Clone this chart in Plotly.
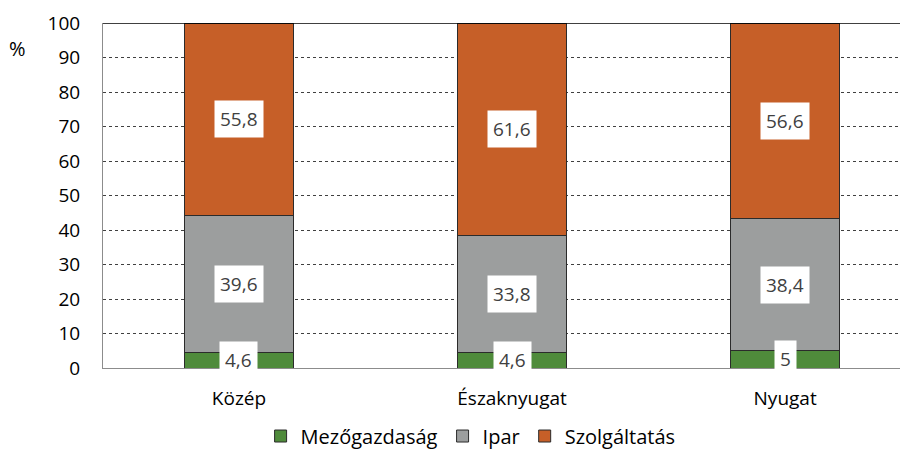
import plotly.graph_objects as go

regions = ['Közép', 'Északnyugat', 'Nyugat']
mezogazdasag = [4.6, 4.6, 5]
ipar = [39.6, 33.8, 38.4]
szolgaltatas = [55.8, 61.6, 56.6]
y_ticks = [0, 10, 20, 30, 40, 50, 60, 70, 80, 90, 100]

series = [
    ('Mezőgazdaság', mezogazdasag, '#4F8B3B'),
    ('Ipar', ipar, '#9C9E9E'),
    ('Szolgáltatás', szolgaltatas, '#C65F28'),
]

FONT = 'Open Sans'


def fmt(v):
    s = ('%g' % v)
    return s.replace('.', ',')


fig = go.Figure()
for name, vals, color in series:
    fig.add_trace(go.Bar(
        x=regions, y=vals, name=name,
        marker=dict(color=color, line=dict(color='#2b2b2b', width=1)),
        width=0.4,
    ))

# white-boxed data labels in the middle of each segment
base = [0] * len(regions)
for name, vals, color in series:
    for i, v in enumerate(vals):
        fig.add_annotation(
            x=regions[i], y=base[i] + v / 2, text=fmt(v),
            showarrow=False, bgcolor='white', borderpad=5,
            font=dict(family=FONT, size=19, color='#404040'),
        )
        base[i] += v

fig.add_shape(type='line', xref='paper', yref='y', x0=0, x1=1, y0=100, y1=100,
              line=dict(color='black', width=1.5))

fig.add_annotation(xref='paper', yref='paper', x=-0.1056, y=0.971, text='%',
                   showarrow=False, xanchor='center',
                   font=dict(family=FONT, size=20, color='black'))

# page body has an 8px margin, so the figure is a bit smaller than the window
fig.update_layout(
    barmode='stack',
    width=900, height=444,
    margin=dict(l=95, r=0, t=15, b=84, autoexpand=False),
    plot_bgcolor='white', paper_bgcolor='white',
    font=dict(family=FONT, size=19, color='black'),
    showlegend=True,
    legend=dict(orientation='h', xref='container', x=0.514, xanchor='center',
                yref='container', y=0.036, yanchor='middle',
                font=dict(family=FONT, size=20), itemwidth=30,
                traceorder='normal'),
    xaxis=dict(range=[-0.498, 2.45], showline=True, linecolor='#8c8c8c',
               linewidth=1, ticks='', showgrid=False, tickfont=dict(size=19),
               ticklabelstandoff=13),
    yaxis=dict(range=[0, 100], tickvals=y_ticks, showline=True,
               linecolor='#8c8c8c', linewidth=1, showgrid=True,
               gridcolor='#404040', griddash='dot', gridwidth=1,
               zeroline=False, ticks='', tickfont=dict(size=19),
               ticklabelstandoff=18),
)

fig.write_html("out.html")
